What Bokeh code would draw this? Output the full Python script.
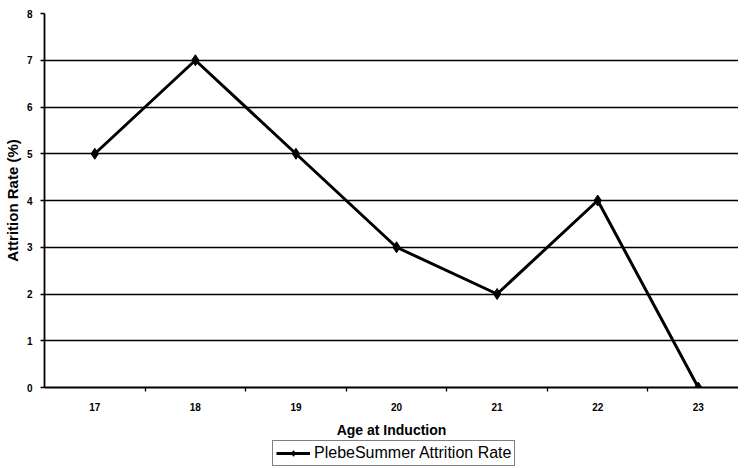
from bokeh.plotting import figure
from bokeh.layouts import column
from bokeh.models import Range1d, FixedTicker, Legend, LegendItem
from bokeh.embed import file_html
from bokeh.resources import INLINE

ages = [17, 18, 19, 20, 21, 22, 23]
attrition = [5, 7, 5, 3, 2, 4, 0]
y_ticks = [0, 1, 2, 3, 4, 5, 6, 7, 8]
x_title = "Age at Induction"
y_title = "Attrition Rate (%)"
series_name = "PlebeSummer Attrition Rate"

FONT = "Liberation Sans"
LINE_W = 3
MARK_SIZE = 11

p = figure(width=738, height=440, output_backend="svg", toolbar_location=None,
           x_range=Range1d(16.5, 23.4), y_range=Range1d(0, 8),
           min_border_left=43, min_border_right=0, min_border_top=13,
           min_border_bottom=52, background_fill_color="white")
p.outline_line_color = None

p.line(ages, attrition, line_color="black", line_width=LINE_W)
p.scatter(ages, attrition, marker="diamond", size=MARK_SIZE,
          fill_color="black", line_color="black")

p.xgrid.visible = False
p.ygrid.ticker = FixedTicker(ticks=y_ticks)
p.ygrid.grid_line_color = "black"
p.ygrid.grid_line_width = 1.3

ya = p.yaxis[0]
ya.ticker = FixedTicker(ticks=y_ticks)
ya.axis_line_color = "black"
ya.axis_line_width = 1.8
ya.major_tick_in = 0
ya.major_tick_out = 4
ya.major_tick_line_width = 1.3
ya.minor_tick_line_color = None
ya.major_label_text_font = FONT
ya.major_label_text_font_style = "bold"
ya.major_label_text_font_size = "10px"
ya.major_label_text_color = "black"
ya.major_label_standoff = 8
ya.axis_label = y_title
ya.axis_label_text_font = FONT
ya.axis_label_text_font_style = "bold"
ya.axis_label_text_font_size = "15px"
ya.axis_label_text_color = "black"
ya.axis_label_standoff = 3

xa = p.xaxis[0]
xa.ticker = FixedTicker(ticks=ages, minor_ticks=[a + 0.5 for a in ages])
xa.axis_line_color = "black"
xa.axis_line_width = 1.8
xa.major_tick_line_color = None
xa.minor_tick_in = 0
xa.minor_tick_out = 4
xa.minor_tick_line_width = 1.3
xa.minor_tick_line_color = "black"
xa.major_label_text_font = FONT
xa.major_label_text_font_style = "bold"
xa.major_label_text_font_size = "10px"
xa.major_label_text_color = "black"
xa.major_label_standoff = 9
xa.axis_label = x_title
xa.axis_label_text_font = FONT
xa.axis_label_text_font_style = "bold"
xa.axis_label_text_font_size = "14px"
xa.axis_label_text_color = "black"
xa.axis_label_standoff = 8

# legend strip below the chart (its renderers lie outside its visible range)
lg = figure(width=738, height=28, output_backend="svg", toolbar_location=None,
            x_range=Range1d(0, 1), y_range=Range1d(0, 1),
            x_axis_location=None, y_axis_location=None,
            min_border=0, background_fill_color="white")
lg.outline_line_color = None
lg.grid.visible = False
g_line = lg.line(ages, attrition, line_color="black", line_width=LINE_W)
g_pts = lg.scatter(ages, attrition, marker="diamond", size=MARK_SIZE - 1,
                   fill_color="black", line_color="black")
legend = Legend(items=[LegendItem(label=series_name, renderers=[g_line, g_pts])],
                location=(228, 2), orientation="horizontal",
                border_line_color="black", border_line_width=1,
                label_text_font=FONT, label_text_font_size="16px",
                label_text_color="black", label_height=17,
                glyph_width=34, glyph_height=14, padding=3, margin=0,
                label_standoff=4, background_fill_color="white")
lg.add_layout(legend, "center")

layout = column(p, lg, spacing=0)
open("out.html", "w").write(file_html(layout, INLINE))
